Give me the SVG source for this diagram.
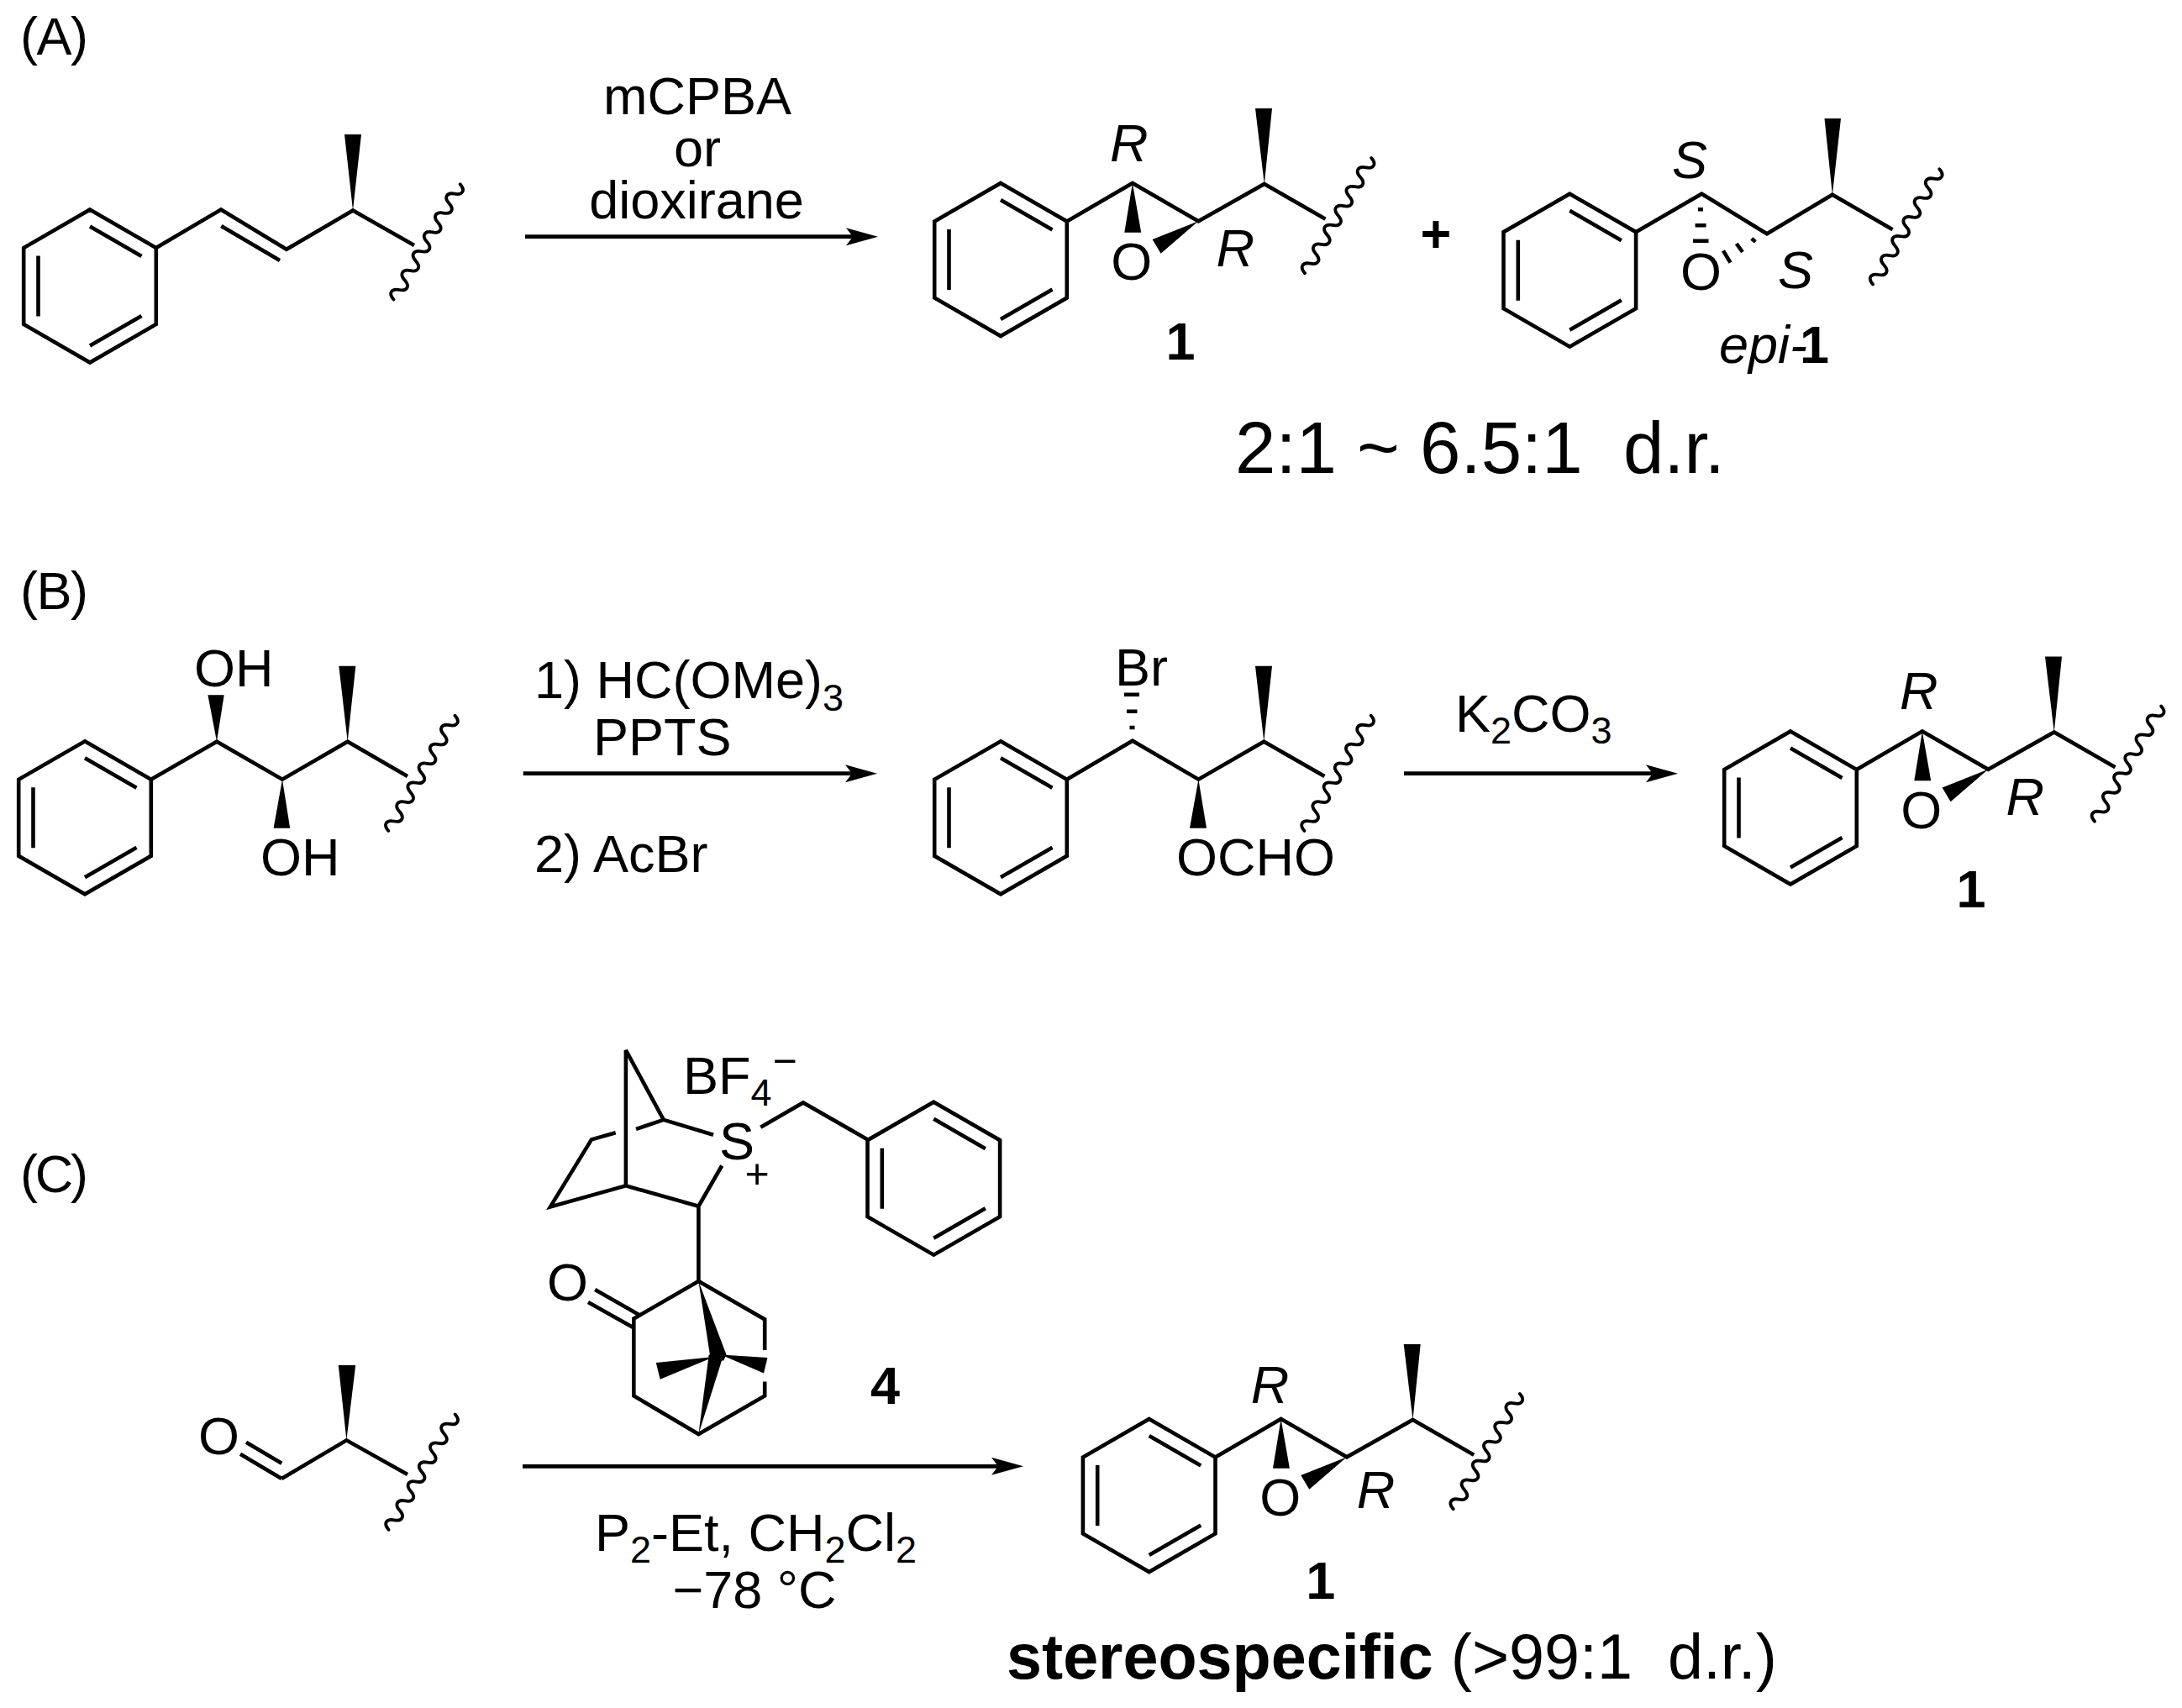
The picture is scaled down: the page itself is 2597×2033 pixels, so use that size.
<svg xmlns="http://www.w3.org/2000/svg" xmlns:xlink="http://www.w3.org/1999/xlink" width="2597" height="2033" viewBox="0 0 2597 2033">
<style>
text{font-family:"Liberation Sans",Arial,sans-serif;font-size:63px;fill:#000;white-space:pre}
.b{fill:none;stroke:#000;stroke-width:4.6;stroke-linejoin:miter;stroke-linecap:butt}
.h{fill:none;stroke:#000;stroke-width:4.6}
.w{fill:#000;stroke:none}
.wv{fill:none;stroke:#000;stroke-width:3.8;stroke-linecap:round}
.ar{fill:none;stroke:#000;stroke-width:4.7;marker-end:url(#head)}
.i{font-style:italic}
.bd{font-weight:bold}
.m{text-anchor:middle}
.sub{font-size:45px}
</style>
<defs>
<marker id="head" markerUnits="userSpaceOnUse" markerWidth="40" markerHeight="24" refX="8" refY="12" orient="auto" overflow="visible">
<path d="M0 1.5L38 12L0 22.5L8 12Z" fill="#000"/>
</marker>
<g id="benzene">
<path class="b" d="M0 -91L78.8 -45.5V45.5L0 91L-78.8 45.5V-45.5Z"/>
<path class="b" d="M-61.5 -36V36M0 -71L61.5 -35.5M0 71L61.5 35.5"/>
</g>
<path id="wavy" class="wv" d="M-79 0c3 -9.2 10.2 -9.2 13.2 0s10.2 9.2 13.2 0s10.2 -9.2 13.2 0s10.2 9.2 13.2 0s10.2 -9.2 13.2 0s10.2 9.2 13.2 0s10.2 -9.2 13.2 0s10.2 9.2 13.2 0s10.2 -9.2 13.2 0s10.2 9.2 13.2 0s10.2 -9.2 13.2 0s10.2 9.2 13.2 0"/>
<g id="epoxide-core">
<use href="#benzene"/>
<path class="b" d="M78.8 -45.5L156.9 -91L235.3 -45.7L313.8 -90L386.5 -48.3"/>
<polygon class="w" points="156.9,-91 147.3,-32.3 167.2,-32.3"/>
<polygon class="w" points="235.3,-45.7 180.6,-24 190.6,-7.3"/>
<polygon class="w" points="313.8,-90 303,-180 323,-180"/>
<use href="#wavy" transform="translate(401.5 -52.3) rotate(-60)"/>
</g>
</defs>
<rect width="2597" height="2033" fill="#fff"/>

<g id="label-a"><text x="24" y="65" textLength="81">(A)</text></g>
<g id="label-b"><text x="24" y="725" textLength="81">(B)</text></g>
<g id="label-c"><text x="24" y="1419" textLength="81">(C)</text></g>

<g id="connectors">
<path class="ar" d="M625 281.7H1015"/>
<path class="ar" d="M622.7 920.7H1014"/>
<path class="ar" d="M1671 920.7H1967"/>
<path class="ar" d="M622 1745.3H1188"/>
</g>

<g id="reagents-a">
<text class="m" x="830" y="136">mCPBA</text>
<text class="m" x="830" y="198.3">or</text>
<text class="m" x="829" y="260">dioxirane</text>
</g>
<g id="reagents-b1">
<text x="636" y="830.7">1) HC(OMe)<tspan class="sub" dy="15">3</tspan></text>
<text x="706" y="899.3">PPTS</text>
<text x="636" y="1038.3">2) AcBr</text>
</g>
<g id="reagents-b2">
<text x="1732" y="870.7">K<tspan class="sub" dy="14.5">2</tspan><tspan dy="-14.5">CO</tspan><tspan class="sub" dy="14.5">3</tspan></text>
</g>
<g id="reagents-c">
<text x="708" y="1845.7">P<tspan class="sub" dy="14.5">2</tspan><tspan dy="-14.5">-Et, CH</tspan><tspan class="sub" dy="14.5">2</tspan><tspan dy="-14.5">Cl</tspan><tspan class="sub" dy="14.5">2</tspan></text>
<text class="m" x="898" y="1914.3">−78 °C</text>
</g>

<g id="substrate-a">
<use href="#benzene" x="107" y="340.5"/>
<path class="b" d="M185.8 295L263 249.5L341 296.7L420 250.5L493 292"/>
<path class="b" d="M263.3 269L333 310"/>
<polygon class="w" points="420,250.5 410,160 430,160"/>
<use href="#wavy" transform="translate(508 288) rotate(-60)"/>
</g>

<g id="product-a-1" transform="translate(1191 309)">
<use href="#epoxide-core"/>
<text class="i" x="130" y="-117.3">R</text>
<text class="i" x="256.4" y="8.3">R</text>
<text class="m" x="155.7" y="24">O</text>
<text class="m bd" x="214" y="118.7">1</text>
</g>

<g id="plus"><text class="m bd" x="1709" y="300">+</text></g>

<g id="product-a-epi">
<use href="#benzene" x="1868.3" y="321.7"/>
<path class="b" d="M1946.5 276.5L2025.3 230.7L2103 278.3L2180.9 231.7L2252.6 273.3"/>
<polygon class="w" points="2180.9,231.7 2171.5,141 2191,141"/>
<path class="h" d="M2021 249.3H2027M2017.6 268.3H2030.6M2015 286.7H2033.5"/>
<path class="h" d="M2084.7 284L2089.4 287.7M2066.7 290L2074 300M2051 298.3L2059.5 312.7"/>
<use href="#wavy" transform="translate(2268.6 270) rotate(-60)"/>
<text class="i m" x="2011" y="212">S</text>
<text class="m" x="2024.4" y="345">O</text>
<text class="i m" x="2137" y="343">S</text>
<text x="2046" y="431.7"><tspan class="i">epi-</tspan><tspan class="bd" dx="-9">1</tspan></text>
</g>

<g id="dr-a"><text x="1470" y="563.3" style="font-size:87px">2:1 ~ 6.5:1  d.r.</text></g>

<g id="substrate-b">
<use href="#benzene" x="101" y="973.3"/>
<path class="b" d="M179.8 927.8L258 882.7L336 927.7L413.7 882.7L485 924"/>
<polygon class="w" points="258,882.7 247.4,827.3 266.7,827.3"/>
<polygon class="w" points="336,927.7 325.6,985.7 345.2,985.7"/>
<polygon class="w" points="413.7,882.7 403.3,792.7 423.3,792.7"/>
<use href="#wavy" transform="translate(501.8 920.5) rotate(-60)"/>
<text x="231" y="816.7">OH</text>
<text x="310" y="1041.7">OH</text>
</g>

<g id="intermediate-b">
<use href="#benzene" x="1191" y="973.3"/>
<path class="b" d="M1269.8 927.8L1347.9 881.7L1426.4 927.7L1504.3 882.7L1576.4 924"/>
<path class="h" d="M1344.5 866H1350.5M1341 846.7H1353.5M1338 826.7H1356"/>
<polygon class="w" points="1426.4,927.7 1416,985.7 1436,985.7"/>
<polygon class="w" points="1504.3,882.7 1494,792.7 1514,792.7"/>
<use href="#wavy" transform="translate(1592 920.5) rotate(-60)"/>
<text x="1327" y="815.7">Br</text>
<text x="1400" y="1041.7">OCHO</text>
</g>

<g id="product-b-1" transform="translate(2131 961.5)">
<use href="#epoxide-core"/>
<text class="i" x="130" y="-117.3">R</text>
<text class="i" x="256.4" y="8.3">R</text>
<text class="m" x="155.7" y="24">O</text>
<text class="m bd" x="215" y="118.7">1</text>
</g>

<g id="substrate-c">
<path class="b" d="M335.2 1760L412.4 1714.3L485 1755"/>
<path class="b" d="M286 1730.7L335.2 1760M293 1716.7L335.2 1741.7"/>
<polygon class="w" points="412.4,1714.3 402.8,1625 423.2,1625"/>
<use href="#wavy" transform="translate(502 1752.3) rotate(-60)"/>
<text class="m" x="260.6" y="1731">O</text>
</g>

<g id="reagent-4">
<path class="b" d="M744.9 1411.4V1250L789.8 1332.9L849 1350.7M789.8 1332.9L757 1343.9M732.7 1348.2L704 1356.4L655 1436.4L744.9 1411.4L831.4 1435.7L859.2 1387.5M831.4 1435.7V1525"/>
<path class="b" d="M905.3 1341.8L955.9 1312.5L1032.7 1356.4"/>
<use href="#benzene" x="1111.3" y="1402.7"/>
<path class="b" d="M910.2 1607V1570.4L831.4 1525L754.3 1569.6V1661.4L831.4 1707L910.2 1661.4V1644.6"/>
<path class="b" d="M700 1550L754.3 1580.4M708.2 1535L762.4 1566"/>
<polygon class="w" points="831.4,1525 864.5,1612.5 861.2,1619.6 843.7,1619.6 844.9,1612.5"/>
<polygon class="w" points="831.4,1707 843.7,1612.5 861.2,1612.5"/>
<polygon class="w" points="780.8,1622 785.7,1641.8 850,1615"/>
<polygon class="w" points="913.5,1616 909,1634.6 858,1612.5"/>
<text class="m" x="877" y="1380">S</text>
<text class="m" x="901" y="1414" style="font-size:50px">+</text>
<text x="813" y="1301.8">BF<tspan class="sub" dy="14">4</tspan><tspan class="sub" dx="1" dy="-36" style="font-size:50px">−</tspan></text>
<text class="m" x="675.5" y="1548">O</text>
<text class="m bd" x="1053.5" y="1670.5">4</text>
</g>

<g id="product-c-1" transform="translate(1367.7 1780)">
<use href="#epoxide-core"/>
<text class="i" x="121" y="-110">R</text>
<text class="i" x="247" y="15">R</text>
<text class="m" x="156" y="24">O</text>
<text class="m bd" x="204" y="122.7">1</text>
</g>

<g id="dr-c"><text x="1198" y="1998.3" style="font-size:75.5px"><tspan class="bd">stereospecific</tspan> (&gt;99:1  d.r.)</text></g>
</svg>
